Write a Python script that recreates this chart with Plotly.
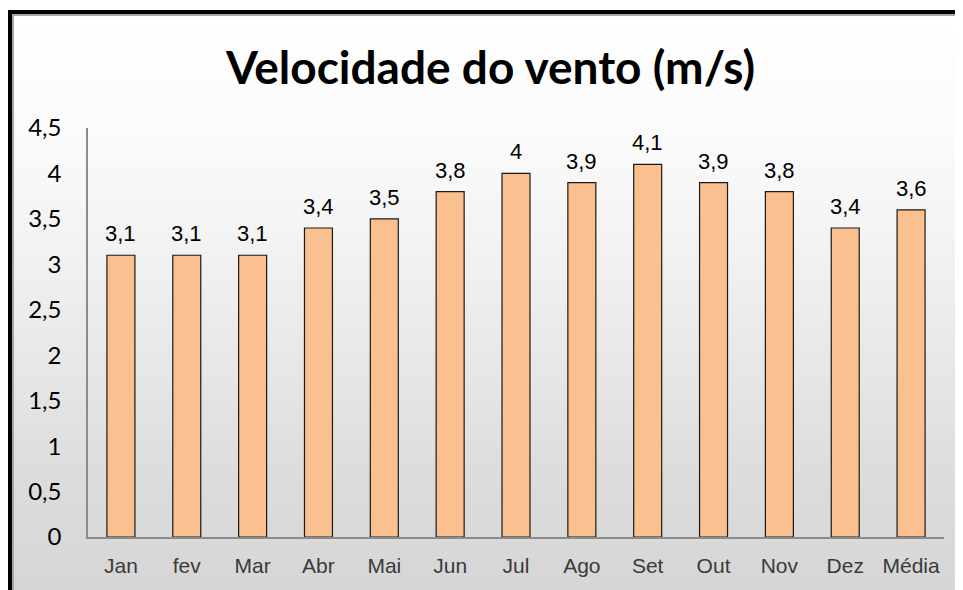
import plotly.graph_objects as go

categories = ["Jan", "fev", "Mar", "Abr", "Mai", "Jun", "Jul", "Ago", "Set", "Out", "Nov", "Dez", "Média"]
values = [3.1, 3.1, 3.1, 3.4, 3.5, 3.8, 4.0, 3.9, 4.1, 3.9, 3.8, 3.4, 3.6]
labels = ["3,1", "3,1", "3,1", "3,4", "3,5", "3,8", "4", "3,9", "4,1", "3,9", "3,8", "3,4", "3,6"]
y_ticks = [0, 0.5, 1, 1.5, 2, 2.5, 3, 3.5, 4, 4.5]
y_ticktext = ["0", "0,5", "1", "1,5", "2", "2,5", "3", "3,5", "4", "4,5"]

W, H = 963, 590
OFF = 8  # page body margin offset
L, R, T, B = 88 - OFF, 944 - OFF, 128 - OFF, 537 - OFF

def px(sx):
    x = sx - OFF
    return (x - L) / (R - L)

def py(sy):
    y = sy - OFF
    return (B - y) / (B - T)

fig = go.Figure()
fig.add_trace(go.Bar(
    x=categories, y=values,
    marker=dict(color="#FAC090", line=dict(color="#1a1a1a", width=1.2)),
    hoverinfo="skip",
))

for c, v, t in zip(categories, values, labels):
    fig.add_annotation(x=c, y=v, text=t, showarrow=False, yanchor="bottom",
                       yshift=7, font=dict(family="Liberation Sans, Arial", size=22, color="#000"))

shapes = []
stops = [(14, 255), (150, 250), (280, 239), (480, 220), (600, 213)]
def shade(y):
    for (y0, c0), (y1, c1) in zip(stops, stops[1:]):
        if y0 <= y <= y1:
            return c0 + (c1 - c0) * (y - y0) / (y1 - y0)
    return stops[-1][1]
n = 100
step = (600 - 12) / n
for i in range(n):
    ya = 12 + i * step
    yb = ya + step + 0.6
    g = int(round(shade(ya + step / 2)))
    shapes.append(dict(type="rect", xref="paper", yref="paper", layer="below",
                       x0=px(10), x1=px(980), y0=py(yb), y1=py(ya),
                       fillcolor=f"rgb({g},{g},{g})", line=dict(width=0)))
# frame
shapes.append(dict(type="rect", xref="paper", yref="paper", layer="above",
                   x0=px(12), x1=px(980), y0=py(16), y1=py(14),
                   fillcolor="#a6a6a6", line=dict(width=0)))
shapes.append(dict(type="rect", xref="paper", yref="paper", layer="above",
                   x0=px(12), x1=px(14), y0=py(610), y1=py(14),
                   fillcolor="#a6a6a6", line=dict(width=0)))
shapes.append(dict(type="rect", xref="paper", yref="paper", layer="above",
                   x0=px(8), x1=px(980), y0=py(14), y1=py(10),
                   fillcolor="#000000", line=dict(width=0)))
shapes.append(dict(type="rect", xref="paper", yref="paper", layer="above",
                   x0=px(8), x1=px(12), y0=py(610), y1=py(10),
                   fillcolor="#000000", line=dict(width=0)))

fig.update_layout(
    width=W, height=H,
    margin=dict(l=L, r=W - R, t=T, b=H - B, pad=0),
    paper_bgcolor="#ffffff",
    plot_bgcolor="rgba(0,0,0,0)",
    bargap=0.575,
    showlegend=False,
    shapes=shapes,
    title=dict(text="<b>Velocidade do vento (m/s)</b>", xref="container",
               x=(490.5 - OFF) / W, xanchor="center",
               y=1 - (68 - OFF) / H, yanchor="middle",
               font=dict(family="Lato, Open Sans", size=46, color="#000")),
    xaxis=dict(showline=True, linecolor="#8c8c8c", linewidth=1.5, ticks="outside",
               ticklen=9, tickcolor="rgba(0,0,0,0)",
               tickfont=dict(family="Liberation Sans, Arial", size=21, color="#3a3a3a"),
               showgrid=False, zeroline=False, fixedrange=True),
    yaxis=dict(range=[0, 4.5], tickvals=y_ticks, ticktext=y_ticktext,
               showline=True, linecolor="#8c8c8c", linewidth=1.5, ticks="outside",
               ticklen=20, tickcolor="rgba(0,0,0,0)",
               tickfont=dict(family="Lato, Open Sans", size=24, color="#000"),
               showgrid=False, zeroline=False, fixedrange=True),
)

fig.write_html("out.html")
